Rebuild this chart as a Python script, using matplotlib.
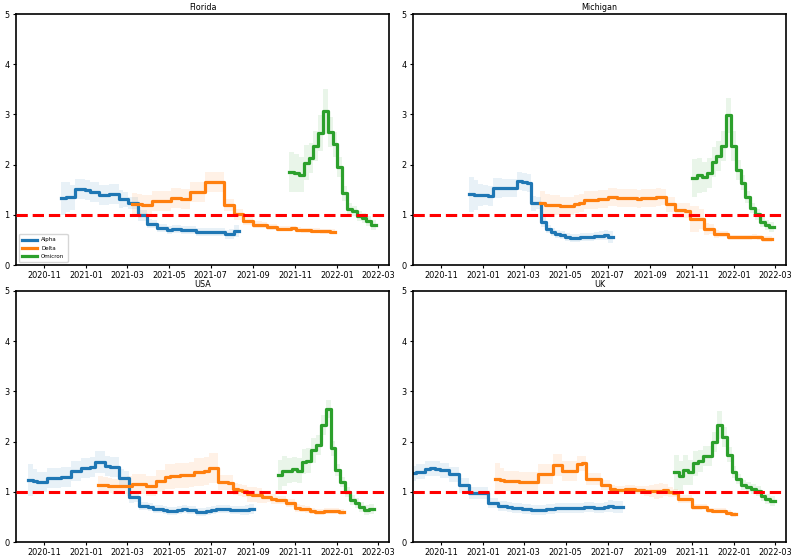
import matplotlib
matplotlib.use("Agg")
import matplotlib.pyplot as plt
import matplotlib.dates as mdates
import numpy as np
import pandas as pd

# weekly reproduction number estimates
# each series: first week start, weekly values, half width of the shaded band

fl_alpha_start = "2020-11-25"
fl_alpha = [1.33, 1.35, 1.35, 1.52, 1.51, 1.50, 1.46, 1.46, 1.40, 1.40, 1.42, 1.42, 1.31,
            1.31, 1.23, 1.23, 0.99, 0.99, 0.83, 0.83, 0.74, 0.74, 0.71, 0.72, 0.72, 0.70,
            0.70, 0.70, 0.66, 0.66, 0.66, 0.66, 0.66, 0.66, 0.62, 0.62, 0.68]
fl_alpha_err = [0.33, 0.30, 0.25, 0.20, 0.20, 0.20, 0.20, 0.20, 0.20, 0.20, 0.20, 0.20, 0.18,
                0.15, 0.12, 0.12, 0.10, 0.10, 0.09, 0.08, 0.08, 0.08, 0.08, 0.08, 0.08, 0.08,
                0.08, 0.08, 0.08, 0.08, 0.08, 0.08, 0.08, 0.08, 0.09, 0.10, 0.12]
fl_delta_start = "2021-03-09"
fl_delta = [1.21, 1.21, 1.19, 1.20, 1.27, 1.27, 1.27, 1.27, 1.33, 1.33, 1.31, 1.31, 1.45,
            1.45, 1.45, 1.66, 1.66, 1.66, 1.66, 1.19, 1.19, 1.01, 1.01, 0.89, 0.89, 0.81,
            0.81, 0.80, 0.77, 0.77, 0.73, 0.73, 0.73, 0.74, 0.71, 0.70, 0.70, 0.69, 0.69,
            0.68, 0.68, 0.67]
fl_delta_err = [0.22, 0.20, 0.20, 0.20, 0.20, 0.20, 0.20, 0.20, 0.20, 0.20, 0.20, 0.20, 0.20,
                0.20, 0.20, 0.20, 0.20, 0.20, 0.20, 0.12, 0.12, 0.10, 0.10, 0.08, 0.08, 0.07,
                0.07, 0.06, 0.06, 0.06, 0.05, 0.05, 0.05, 0.05, 0.05, 0.05, 0.05, 0.05, 0.05,
                0.05, 0.05, 0.05]
fl_omicron_start = "2021-10-23"
fl_omicron = [1.86, 1.84, 1.80, 2.04, 2.14, 2.37, 2.63, 3.06, 2.66, 2.41, 1.96, 1.43, 1.12,
              1.07, 0.98, 0.94, 0.88, 0.81]
fl_omicron_err = [0.40, 0.38, 0.35, 0.35, 0.30, 0.30, 0.35, 0.45, 0.30, 0.25, 0.20, 0.15,
                  0.12, 0.10, 0.10, 0.10, 0.10, 0.10]

mi_alpha_start = "2020-12-11"
mi_alpha = [1.41, 1.40, 1.40, 1.40, 1.37, 1.53, 1.53, 1.53, 1.53, 1.54, 1.67, 1.66, 1.64,
            1.23, 1.23, 0.86, 0.72, 0.66, 0.62, 0.61, 0.57, 0.55, 0.55, 0.56, 0.56, 0.56,
            0.59, 0.59, 0.60, 0.56]
mi_alpha_err = [0.35, 0.30, 0.22, 0.20, 0.20, 0.20, 0.20, 0.18, 0.18, 0.18, 0.18, 0.18, 0.18,
                0.15, 0.12, 0.10, 0.08, 0.08, 0.08, 0.08, 0.08, 0.08, 0.08, 0.08, 0.08, 0.08,
                0.08, 0.09, 0.10, 0.12]
mi_delta_start = "2021-03-25"
mi_delta = [1.23, 1.19, 1.19, 1.19, 1.17, 1.17, 1.17, 1.22, 1.23, 1.29, 1.29, 1.29, 1.31,
            1.31, 1.36, 1.36, 1.34, 1.34, 1.33, 1.33, 1.32, 1.33, 1.33, 1.34, 1.35, 1.35,
            1.21, 1.21, 1.09, 1.09, 1.08, 0.92, 0.92, 0.92, 0.72, 0.72, 0.62, 0.62, 0.62,
            0.56, 0.56, 0.56, 0.56, 0.56, 0.57, 0.56, 0.53, 0.53]
mi_delta_err = [0.25, 0.22, 0.20, 0.20, 0.18, 0.18, 0.18, 0.18, 0.18, 0.18, 0.18, 0.18, 0.18,
                0.18, 0.18, 0.18, 0.18, 0.18, 0.18, 0.18, 0.18, 0.18, 0.18, 0.18, 0.18, 0.16,
                0.15, 0.15, 0.15, 0.15, 0.15, 0.25, 0.25, 0.20, 0.12, 0.10, 0.08, 0.06, 0.06,
                0.05, 0.05, 0.05, 0.05, 0.05, 0.05, 0.05, 0.06, 0.06]
mi_omicron_start = "2021-11-01"
mi_omicron = [1.74, 1.79, 1.76, 1.83, 2.05, 2.17, 2.38, 2.98, 2.37, 1.90, 1.64, 1.36, 1.14,
              1.01, 0.86, 0.80, 0.76]
mi_omicron_err = [0.38, 0.35, 0.30, 0.30, 0.30, 0.30, 0.30, 0.35, 0.30, 0.20, 0.15, 0.12,
                  0.10, 0.10, 0.10, 0.10, 0.10]

us_alpha_start = "2020-10-08"
us_alpha = [1.23, 1.21, 1.20, 1.20, 1.27, 1.27, 1.27, 1.29, 1.29, 1.41, 1.41, 1.48, 1.48,
            1.49, 1.59, 1.59, 1.52, 1.49, 1.49, 1.27, 1.27, 0.90, 0.89, 0.72, 0.71, 0.70,
            0.66, 0.66, 0.64, 0.61, 0.61, 0.64, 0.65, 0.64, 0.63, 0.60, 0.60, 0.61, 0.64,
            0.65, 0.65, 0.65, 0.64, 0.63, 0.63, 0.64, 0.65]
us_alpha_err = [0.32, 0.25, 0.20, 0.20, 0.20, 0.20, 0.20, 0.20, 0.20, 0.20, 0.20, 0.20, 0.20,
                0.20, 0.22, 0.22, 0.20, 0.20, 0.20, 0.18, 0.15, 0.12, 0.10, 0.08, 0.08, 0.08,
                0.08, 0.08, 0.08, 0.08, 0.08, 0.08, 0.08, 0.08, 0.08, 0.08, 0.08, 0.08, 0.08,
                0.08, 0.08, 0.08, 0.08, 0.08, 0.09, 0.10, 0.10]
us_delta_start = "2021-01-18"
us_delta = [1.13, 1.13, 1.12, 1.11, 1.11, 1.11, 1.12, 1.16, 1.16, 1.15, 1.11, 1.11, 1.21,
            1.21, 1.30, 1.31, 1.32, 1.33, 1.33, 1.34, 1.40, 1.40, 1.41, 1.47, 1.47, 1.19,
            1.19, 1.18, 1.05, 1.04, 1.02, 0.95, 0.94, 0.93, 0.90, 0.89, 0.85, 0.84, 0.84,
            0.78, 0.77, 0.67, 0.66, 0.65, 0.61, 0.60, 0.60, 0.61, 0.61, 0.61, 0.60]
us_delta_err = [0.18, 0.16, 0.15, 0.15, 0.15, 0.15, 0.20, 0.20, 0.20, 0.20, 0.20, 0.20, 0.22,
                0.22, 0.25, 0.25, 0.25, 0.25, 0.25, 0.25, 0.28, 0.28, 0.28, 0.30, 0.30, 0.15,
                0.15, 0.15, 0.12, 0.12, 0.12, 0.15, 0.15, 0.15, 0.12, 0.10, 0.10, 0.08, 0.08,
                0.08, 0.08, 0.08, 0.07, 0.07, 0.06, 0.06, 0.06, 0.06, 0.06, 0.06, 0.06]
us_omicron_start = "2021-10-06"
us_omicron = [1.33, 1.42, 1.42, 1.45, 1.42, 1.60, 1.62, 1.83, 1.93, 2.33, 2.65, 1.87, 1.43,
              1.20, 1.00, 0.84, 0.77, 0.70, 0.64, 0.65]
us_omicron_err = [0.30, 0.30, 0.25, 0.25, 0.25, 0.25, 0.25, 0.25, 0.20, 0.20, 0.18, 0.15,
                  0.12, 0.10, 0.10, 0.10, 0.10, 0.10, 0.10, 0.10]

uk_alpha_start = "2020-09-18"
uk_alpha = [1.37, 1.40, 1.40, 1.46, 1.47, 1.46, 1.43, 1.43, 1.35, 1.35, 1.13, 1.13, 0.98,
            0.98, 0.98, 0.98, 0.78, 0.78, 0.72, 0.72, 0.70, 0.67, 0.67, 0.66, 0.65, 0.63,
            0.63, 0.64, 0.66, 0.66, 0.67, 0.67, 0.67, 0.67, 0.68, 0.68, 0.69, 0.69, 0.68,
            0.68, 0.70, 0.71, 0.69, 0.69]
uk_alpha_err = [0.15, 0.15, 0.15, 0.15, 0.15, 0.15, 0.15, 0.15, 0.15, 0.15, 0.15, 0.15, 0.12,
                0.12, 0.12, 0.12, 0.10, 0.10, 0.10, 0.10, 0.10, 0.10, 0.10, 0.10, 0.10, 0.10,
                0.10, 0.10, 0.10, 0.10, 0.10, 0.10, 0.10, 0.10, 0.10, 0.10, 0.10, 0.10, 0.10,
                0.10, 0.10, 0.12, 0.12, 0.12]
uk_delta_start = "2021-01-18"
uk_delta = [1.26, 1.23, 1.22, 1.21, 1.21, 1.20, 1.19, 1.19, 1.19, 1.35, 1.36, 1.36, 1.53,
            1.53, 1.42, 1.41, 1.41, 1.56, 1.57, 1.26, 1.26, 1.26, 1.13, 1.13, 1.05, 1.04,
            1.04, 1.05, 1.06, 1.04, 1.03, 1.02, 1.01, 1.01, 1.02, 1.03, 1.00, 0.97, 0.86,
            0.86, 0.86, 0.70, 0.70, 0.70, 0.63, 0.62, 0.62, 0.62, 0.58, 0.55]
uk_delta_err = [0.32, 0.25, 0.20, 0.20, 0.20, 0.20, 0.20, 0.20, 0.20, 0.20, 0.20, 0.20, 0.22,
                0.22, 0.20, 0.20, 0.20, 0.15, 0.15, 0.12, 0.12, 0.12, 0.10, 0.10, 0.08, 0.08,
                0.08, 0.08, 0.08, 0.08, 0.08, 0.10, 0.12, 0.15, 0.15, 0.12, 0.10, 0.08, 0.08,
                0.08, 0.08, 0.06, 0.06, 0.05, 0.05, 0.05, 0.05, 0.05, 0.05, 0.05]
uk_omicron_start = "2021-10-05"
uk_omicron = [1.39, 1.32, 1.43, 1.39, 1.57, 1.61, 1.72, 1.72, 1.99, 2.33, 2.09, 1.74, 1.39,
              1.25, 1.14, 1.09, 1.05, 1.01, 0.91, 0.85, 0.81]
uk_omicron_err = [0.35, 0.30, 0.30, 0.25, 0.25, 0.22, 0.20, 0.20, 0.20, 0.28, 0.20, 0.15,
                  0.12, 0.10, 0.10, 0.10, 0.10, 0.10, 0.10, 0.10, 0.10]

regions = ["Florida", "Michigan", "USA", "UK"]
variants = ["Alpha", "Delta", "Omicron"]
panels = {
    "Florida": [(fl_alpha_start, fl_alpha, fl_alpha_err),
                (fl_delta_start, fl_delta, fl_delta_err),
                (fl_omicron_start, fl_omicron, fl_omicron_err)],
    "Michigan": [(mi_alpha_start, mi_alpha, mi_alpha_err),
                 (mi_delta_start, mi_delta, mi_delta_err),
                 (mi_omicron_start, mi_omicron, mi_omicron_err)],
    "USA": [(us_alpha_start, us_alpha, us_alpha_err),
            (us_delta_start, us_delta, us_delta_err),
            (us_omicron_start, us_omicron, us_omicron_err)],
    "UK": [(uk_alpha_start, uk_alpha, uk_alpha_err),
           (uk_delta_start, uk_delta, uk_delta_err),
           (uk_omicron_start, uk_omicron, uk_omicron_err)],
}
colors = ["#1f77b4", "#ff7f0e", "#2ca02c"]

fig = plt.figure(figsize=(8, 5.6), dpi=100)
gs = fig.add_gridspec(2, 2, left=0.02, right=0.9825, top=0.975, bottom=0.032,
                      wspace=0.064, hspace=0.102)

for i, region in enumerate(regions):
    ax = fig.add_subplot(gs[i // 2, i % 2])
    for (start, vals, err), name, color in zip(panels[region], variants, colors):
        # step edges: one week per value, plus the closing edge
        edges = pd.date_range(start, periods=len(vals) + 1, freq="7D")
        v = np.append(vals, vals[-1])
        e = np.append(err, err[-1])
        ax.fill_between(edges, v - e, v + e, step="post", color=color,
                        alpha=0.1, linewidth=0)
        ax.step(edges, v, where="post", color=color, linewidth=2.3, label=name)
    ax.axhline(1, color="red", linestyle="--", linewidth=2.2, zorder=3)

    ax.set_ylim(0, 5)
    ax.set_xlim(pd.Timestamp("2020-09-21"), pd.Timestamp("2022-03-17"))
    ax.xaxis.set_major_locator(mdates.MonthLocator(bymonth=[1, 3, 5, 7, 9, 11]))
    ax.xaxis.set_major_formatter(mdates.DateFormatter("%Y-%m"))
    ax.tick_params(labelsize=5.9, length=2.5, width=0.8, pad=2)
    ax.set_title(region, fontsize=5.8, pad=3)
    for s in ax.spines.values():
        s.set_linewidth(1.2)
    if region == "Florida":
        ax.legend(loc="lower left", fontsize=4, handlelength=2.6, borderpad=0.6,
                  labelspacing=0.6)

plt.savefig("out.png", dpi=100)
